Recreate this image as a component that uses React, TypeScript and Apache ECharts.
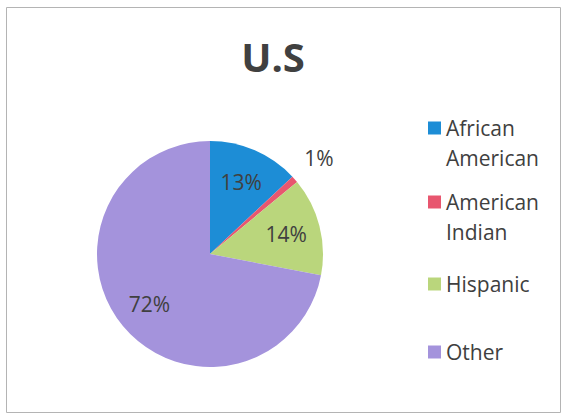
import React, { useEffect, useRef } from "react";
import * as echarts from "echarts";

const categories = ["African American", "American Indian", "Hispanic", "Other"];
const legendLines = [["African", "American"], ["American", "Indian"], ["Hispanic"], ["Other"]];
const values = [13, 1, 14, 72];
const colors = ["#1d8dd6", "#e8566f", "#bad67c", "#a493dc"];
const titleText = "U.S";

const FONT = "'Open Sans', 'Liberation Sans', sans-serif";
const TXT = "#404040";

export default function App() {
  const ref = useRef<HTMLDivElement>(null);
  useEffect(() => {
    if (!ref.current) return;
    const chart = echarts.init(ref.current, undefined, { renderer: "svg" });
    const R = 113;
    const center = [210, 254];
    const outsideIdx = values.map((v, i) => (v < 5 ? i : -1)).filter((i) => i >= 0);

    const mainData = categories.map((name, i) => ({
      name,
      value: values[i],
      itemStyle: { color: colors[i] },
    }));
    const innerLabelData = categories.map((name, i) => ({
      name,
      value: values[i],
      label: { show: !outsideIdx.includes(i) },
    }));
    const outerLabelData = categories.map((name, i) => ({
      name,
      value: values[i],
      label: { show: outsideIdx.includes(i) },
    }));
    const labelStyle = {
      position: "inside",
      formatter: "{c}%",
      color: TXT,
      fontSize: 21,
      fontFamily: FONT,
    };

    const legendTops = [83, 157, 269, 337];
    const legends = categories.map((name, i) => {
      const lines = legendLines[i];
      // for two-line labels, a blank leading line keeps the first line level with the icon
      const txt = lines.length > 1 ? " \n" + lines.join("\n") : lines[0];
      return {
        data: [name],
        left: 428,
        top: legendTops[i],
        padding: 0,
        icon: "rect",
        itemWidth: 13,
        itemHeight: 13,
        selectedMode: false,
        formatter: () => txt,
        textStyle: {
          color: TXT,
          fontSize: 21,
          fontFamily: FONT,
          lineHeight: 30,
        },
      };
    });

    chart.setOption({
      animation: false,
      title: {
        text: titleText,
        left: 268,
        textAlign: "center",
        top: 31,
        textStyle: { fontSize: 40, fontWeight: "bold", color: TXT, fontFamily: FONT },
      },
      legend: legends,
      graphic: [
        {
          type: "rect",
          shape: { x: 6.5, y: 7.5, width: 554, height: 405 },
          style: { fill: "none", stroke: "#b4b4b4", lineWidth: 1 },
          silent: true,
        },
      ],
      series: [
        {
          type: "pie",
          center,
          radius: R,
          startAngle: 90,
          clockwise: true,
          label: { show: false },
          labelLine: { show: false },
          emphasis: { disabled: true },
          data: mainData,
        },
        {
          type: "pie",
          center,
          radius: [R * 0.34, R],
          startAngle: 90,
          silent: true,
          itemStyle: { color: "rgba(0,0,0,0)" },
          label: labelStyle,
          labelLine: { show: false },
          emphasis: { disabled: true },
          data: innerLabelData,
        },
        {
          type: "pie",
          center,
          radius: [R, R * 1.52],
          startAngle: 90,
          silent: true,
          itemStyle: { color: "rgba(0,0,0,0)" },
          label: labelStyle,
          labelLine: { show: false },
          emphasis: { disabled: true },
          data: outerLabelData,
        },
      ],
    });
    return () => chart.dispose();
  }, []);
  return (
    <div
      ref={ref}
      style={{ position: "absolute", left: 0, top: 0, width: 562, height: 416, background: "#fff" }}
    />
  );
}
